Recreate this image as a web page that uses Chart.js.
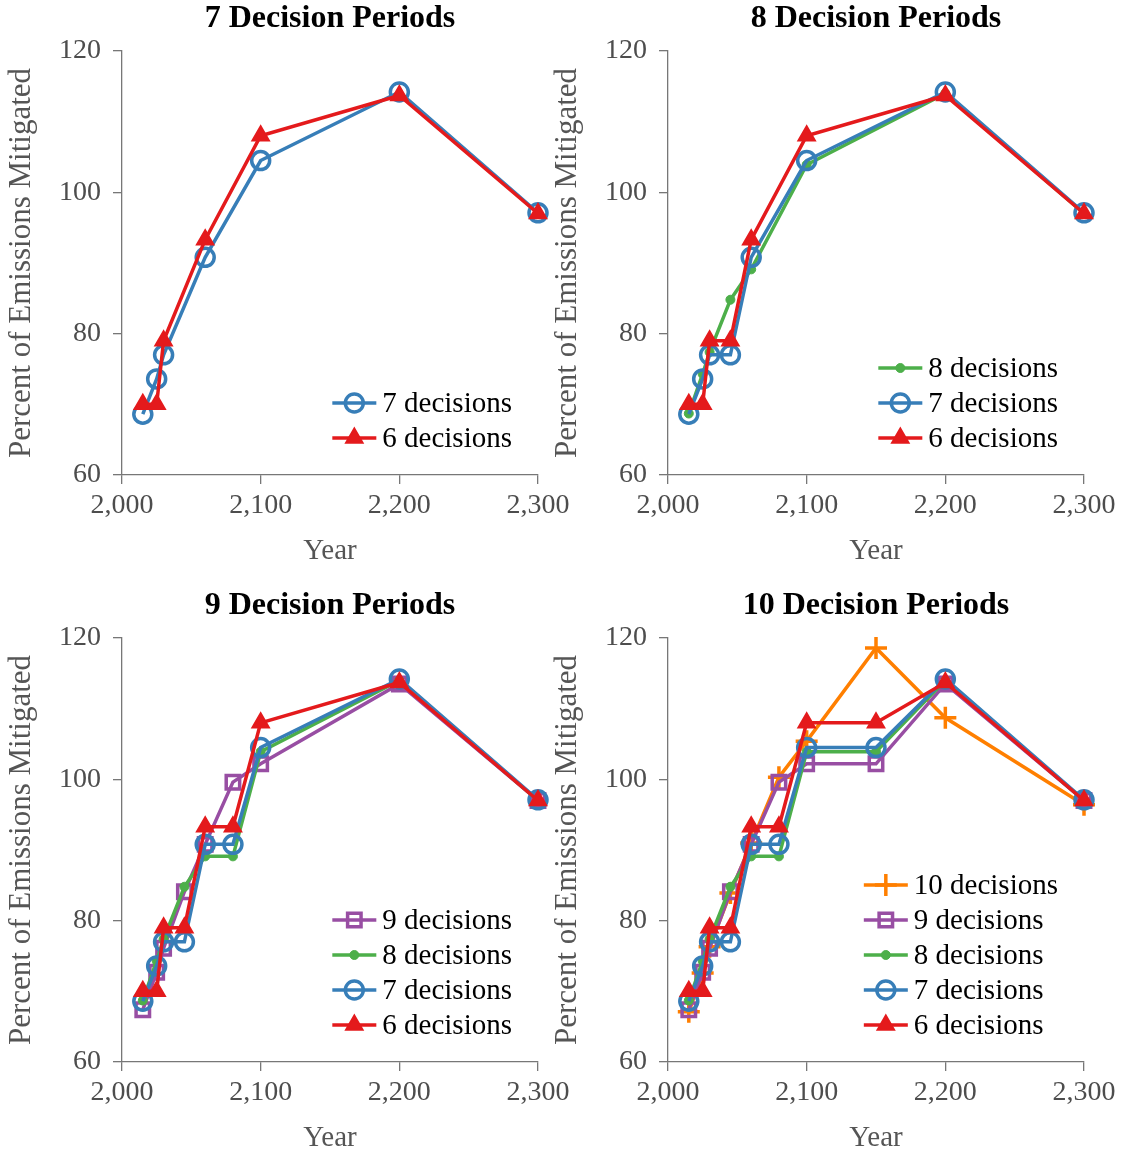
<!DOCTYPE html>
<html>
<head>
<meta charset="utf-8">
<title>Decision Periods</title>
<script src="https://cdn.jsdelivr.net/npm/chart.js@4.4.1/dist/chart.umd.min.js"></script>
<style>
  html, body { margin: 0; padding: 0; background: #fff; overflow: hidden; }
  #wrap { position: relative; width: 1124px; height: 1153px; overflow: hidden; }
  .panel { position: absolute; width: 578px; height: 587px; }
</style>
</head>
<body>
<div id="wrap">
  <div class="panel" style="left:0;top:0"><canvas id="p7" width="578" height="587"></canvas></div>
  <div class="panel" style="left:546px;top:0"><canvas id="p8" width="578" height="587"></canvas></div>
  <div class="panel" style="left:0;top:587px"><canvas id="p9" width="578" height="587"></canvas></div>
  <div class="panel" style="left:546px;top:587px"><canvas id="p10" width="578" height="587"></canvas></div>
</div>
<script>
// decision years for each number of periods
const years7 = [2015, 2025, 2030, 2060, 2100, 2200, 2300];
const years8 = [2015, 2025, 2030, 2045, 2060, 2100, 2200, 2300];
const years9 = [2015, 2025, 2030, 2045, 2060, 2080, 2100, 2200, 2300];
const years10 = [2015, 2025, 2030, 2045, 2060, 2080, 2100, 2150, 2200, 2300];

// percent mitigated
const p7_d7 = [68.6, 73.6, 77.0, 90.8, 104.5, 114.2, 97.1];
const p7_d6 = [70.0, 70.0, 79.0, 93.3, 108.0, 113.7, 97.0];

const p8_d8 = [68.7, 74.3, 77.4, 84.8, 89.1, 103.9, 114.0, 97.0];
const p8_d7 = [68.6, 73.6, 77.0, 77.0, 90.8, 104.5, 114.2, 97.1];
const p8_d6 = [70.0, 70.0, 79.0, 79.0, 93.3, 108.0, 113.7, 97.0];

const p9_d9 = [67.4, 72.7, 76.1, 84.1, 90.8, 99.6, 102.2, 113.5, 97.0];
const p9_d8 = [68.7, 74.3, 77.4, 84.8, 89.1, 89.1, 103.9, 114.0, 97.0];
const p9_d7 = [68.6, 73.6, 77.0, 77.0, 90.8, 90.8, 104.5, 114.2, 97.1];
const p9_d6 = [70.0, 70.0, 79.0, 79.0, 93.3, 93.3, 108.0, 113.7, 97.0];

const p10_d10 = [67.1, 72.6, 76.3, 83.9, 91.0, 100.3, 105.4, 118.6, 108.7, 96.4];
const p10_d9 = [67.4, 72.7, 76.1, 84.1, 90.8, 99.6, 102.2, 102.2, 113.5, 97.0];
const p10_d8 = [68.7, 74.3, 77.4, 84.8, 89.1, 89.1, 103.9, 103.9, 114.0, 97.0];
const p10_d7 = [68.6, 73.6, 77.0, 77.0, 90.8, 90.8, 104.5, 104.5, 114.2, 97.1];
const p10_d6 = [70.0, 70.0, 79.0, 79.0, 93.3, 93.3, 108.0, 108.0, 113.7, 97.0];

const xTicks = [2000, 2100, 2200, 2300];
const yTicks = [60, 80, 100, 120];

const FONT = '"Liberation Serif", "DejaVu Serif", serif';
Chart.defaults.font.family = FONT;

// look of each series
const seriesStyle = {
  6:  { color: '#e41a1c', shape: 'triangle', r: 9.5, bw: 2,   filled: true },
  7:  { color: '#377eb8', shape: 'circle',   r: 9,   bw: 3.5, filled: false },
  8:  { color: '#4daf4a', shape: 'circle',   r: 4.5, bw: 1,   filled: true },
  9:  { color: '#984ea3', shape: 'rect',     r: 9.5, bw: 3.5, filled: false },
  10: { color: '#ff7f00', shape: 'cross',    r: 11,  bw: 3.5, filled: false }
};
const LINE_W = 3.5;

// title centred over the plot area
const panelTitle = {
  id: 'panelTitle',
  afterDraw(chart, args, opts) {
    const ctx = chart.ctx, a = chart.chartArea;
    ctx.save();
    ctx.font = 'bold 32px ' + FONT;
    ctx.fillStyle = '#000';
    ctx.textAlign = 'center';
    ctx.textBaseline = 'alphabetic';
    ctx.fillText(opts.text, (a.left + a.right) / 2, 27);
    ctx.restore();
  }
};

// legend in lower right corner, line + marker like the plot
const cornerLegend = {
  id: 'cornerLegend',
  afterDatasetsDraw(chart) {
    const ctx = chart.ctx, a = chart.chartArea;
    const items = chart.data.datasets.slice().reverse();
    ctx.save();
    ctx.font = '29px ' + FONT;
    const maxW = Math.max(...items.map(d => ctx.measureText(d.label).width));
    const tx = a.right - 26 - maxW;
    items.forEach((d, i) => {
      const s = seriesStyle[d.nDec];
      const y = a.bottom - 37 - (items.length - 1 - i) * 35;
      ctx.strokeStyle = s.color;
      ctx.lineWidth = LINE_W;
      ctx.beginPath();
      ctx.moveTo(tx - 50, y);
      ctx.lineTo(tx - 6, y);
      ctx.stroke();
      ctx.fillStyle = s.filled ? s.color : 'rgba(0,0,0,0)';
      ctx.lineWidth = s.bw;
      Chart.helpers.drawPoint(ctx, { pointStyle: s.shape, rotation: 0, radius: s.r, borderWidth: s.bw }, tx - 28, y);
      ctx.fillStyle = '#000';
      ctx.textAlign = 'left';
      ctx.textBaseline = 'middle';
      ctx.fillText(d.label, tx, y + 1);
    });
    ctx.restore();
  }
};

function makePanel(id, title, years, series) {
  const datasets = series.map(([n, vals]) => {
    const s = seriesStyle[n];
    return {
      label: n + ' decisions',
      nDec: n,
      data: years.map((yr, i) => ({ x: yr, y: vals[i] })),
      borderColor: s.color,
      backgroundColor: s.color,
      borderWidth: LINE_W,
      tension: 0,
      clip: false,
      pointStyle: s.shape,
      pointRadius: s.r,
      pointBorderWidth: s.bw,
      pointBorderColor: s.color,
      pointBackgroundColor: s.filled ? s.color : 'rgba(0,0,0,0)'
    };
  });
  const axisGrid = { display: true, drawOnChartArea: false, drawTicks: true, tickLength: 9, color: '#777', lineWidth: 1.3 };
  const axisBorder = { display: true, color: '#777', width: 1.3 };
  new Chart(document.getElementById(id), {
    type: 'line',
    data: { datasets },
    plugins: [panelTitle, cornerLegend],
    options: {
      responsive: false,
      animation: false,
      devicePixelRatio: 1,
      layout: { padding: { left: 0, right: 40, top: 51, bottom: 0 } },
      plugins: {
        legend: { display: false },
        tooltip: { enabled: false },
        title: { display: false },
        panelTitle: { text: title }
      },
      scales: {
        x: {
          type: 'linear', min: xTicks[0], max: xTicks[xTicks.length - 1],
          afterFit: s => { s.height = 112; s.paddingLeft = 0; s.paddingRight = 0; },
          afterBuildTicks: s => { s.ticks = xTicks.map(v => ({ value: v })); },
          ticks: { color: '#4d4d4d', font: { size: 28 }, padding: 5, maxRotation: 0, autoSkip: false,
                   callback: v => v.toLocaleString('en-US') },
          grid: axisGrid, border: axisBorder,
          title: { display: true, text: 'Year', color: '#555', font: { size: 29 }, padding: { top: 0, bottom: 18 } }
        },
        y: {
          type: 'linear', min: yTicks[0], max: yTicks[yTicks.length - 1],
          afterFit: s => { s.width = 122; s.paddingTop = 0; s.paddingBottom = 0; },
          afterBuildTicks: s => { s.ticks = yTicks.map(v => ({ value: v })); },
          ticks: { color: '#4d4d4d', font: { size: 28 }, padding: 12, autoSkip: false },
          grid: axisGrid, border: axisBorder,
          title: { display: true, text: 'Percent of Emissions Mitigated', color: '#555', font: { size: 31 }, padding: { top: 3, bottom: 0 } }
        }
      }
    }
  });
}

// first entry is drawn on top
makePanel('p7', '7 Decision Periods', years7, [[6, p7_d6], [7, p7_d7]]);
makePanel('p8', '8 Decision Periods', years8, [[6, p8_d6], [7, p8_d7], [8, p8_d8]]);
makePanel('p9', '9 Decision Periods', years9, [[6, p9_d6], [7, p9_d7], [8, p9_d8], [9, p9_d9]]);
makePanel('p10', '10 Decision Periods', years10, [[6, p10_d6], [7, p10_d7], [8, p10_d8], [9, p10_d9], [10, p10_d10]]);
</script>
</body>
</html>
